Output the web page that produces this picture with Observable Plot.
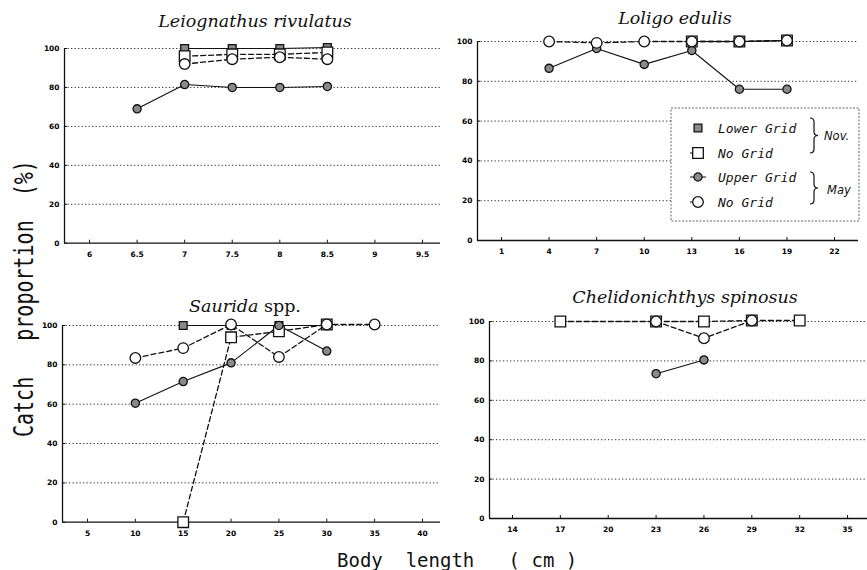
<!DOCTYPE html>
<html>
<head>
<meta charset="utf-8">
<script src="https://cdn.jsdelivr.net/npm/d3@7"></script>
<script src="https://cdn.jsdelivr.net/npm/@observablehq/plot@0.6"></script>
<style>
  body { margin: 0; background: #fff; }
  #wrap { position: relative; width: 867px; height: 570px; overflow: hidden; background: #fff; }
  #wrap > svg { position: absolute; }
</style>
</head>
<body>
<div id="wrap"></div>
<script>
// ---------- data ----------
const yTicks = [0, 20, 40, 60, 80, 100];
const gridLevels = [20, 40, 60, 80, 100];

const seriesKeys   = ["lowerNov", "noGridNov", "upperMay", "noGridMay"];
const seriesLabels = ["Lower Grid", "No Grid", "Upper Grid", "No Grid"];
const monthLabels  = ["Nov.", "May"];

// Leiognathus rivulatus
const leioTicks      = [6, 6.5, 7, 7.5, 8, 8.5, 9, 9.5];
const leioLength     = [6.5, 7, 7.5, 8, 8.5];
const leioLowerNov   = [null, 100, 100, 100, 100.5];
const leioNoGridNov  = [null, 96, 97, 97, 98];
const leioUpperMay   = [69, 81.5, 80, 80, 80.5];
const leioNoGridMay  = [null, 92, 94.5, 95.5, 94.5];

// Loligo edulis
const loligoTicks     = [1, 4, 7, 10, 13, 16, 19, 22];
const loligoLength    = [4, 7, 10, 13, 16, 19];
const loligoLowerNov  = [null, null, null, 100, 100, 100.5];
const loligoNoGridNov = [null, null, null, 100, 100, 100.5];
const loligoUpperMay  = [86.5, 96.5, 88.5, 95.5, 76, 76];
const loligoNoGridMay = [100, 99.3, 100, 100, 100, 100.5];

// Saurida spp.
const sauridaTicks     = [5, 10, 15, 20, 25, 30, 35, 40];
const sauridaLength    = [10, 15, 20, 25, 30, 35];
const sauridaLowerNov  = [null, 100, 100, 100, 100, null];
const sauridaNoGridNov = [null, 0, 94, 97, 100.5, null];
const sauridaUpperMay  = [60.5, 71.5, 81, 100, 87, null];
const sauridaNoGridMay = [83.5, 88.5, 100.5, 84, 100.5, 100.5];

// Chelidonichthys spinosus
const cheliTicks     = [14, 17, 20, 23, 26, 29, 32, 35];
const cheliLength    = [17, 23, 26, 29, 32];
const cheliLowerNov  = [null, null, null, null, null];
const cheliNoGridNov = [100, 100, 100, 100.5, 100.5];
const cheliUpperMay  = [null, 73.5, 80.5, null, null];
const cheliNoGridMay = [null, 100, 91.5, 100.5, null];

// ---------- styles ----------
const markStyle = {
  lowerNov:  {symbol: "square", fill: "#8a8a8a", r: 4.4, dash: null,  sw: 1.1},
  noGridNov: {symbol: "square", fill: "#fff",    r: 6.0, dash: "5,3", sw: 1.3},
  upperMay:  {symbol: "circle", fill: "#8a8a8a", r: 4.1, dash: null,  sw: 1.1},
  noGridMay: {symbol: "circle", fill: "#fff",    r: 5.3, dash: "5,3", sw: 1.3}
};

const panels = [
  {title: [["Leiognathus rivulatus", "italic"]], tx: 255, ty: 27,
   rect: {x0: 64, x1: 440, y0: 48, y1: 242.7}, domain: [5.737, 9.689], ticks: leioTicks,
   lengths: leioLength, values: [leioLowerNov, leioNoGridNov, leioUpperMay, leioNoGridMay]},
  {title: [["Loligo edulis", "italic"]], tx: 675, ty: 24,
   rect: {x0: 477, x1: 858, y0: 41, y1: 240}, domain: [-0.514, 23.51], ticks: loligoTicks,
   lengths: loligoLength, values: [loligoLowerNov, loligoNoGridNov, loligoUpperMay, loligoNoGridMay]},
  {title: [["Saurida", "italic"], [" spp.", "normal"]], tx: 245, ty: 312,
   rect: {x0: 62, x1: 440, y0: 325, y1: 521.7}, domain: [2.39, 41.88], ticks: sauridaTicks,
   lengths: sauridaLength, values: [sauridaLowerNov, sauridaNoGridNov, sauridaUpperMay, sauridaNoGridMay]},
  {title: [["Chelidonichthys spinosus", "italic"]], tx: 685, ty: 303,
   rect: {x0: 489, x1: 867, y0: 321, y1: 518}, domain: [12.56, 36.25], ticks: cheliTicks,
   lengths: cheliLength, values: [cheliLowerNov, cheliNoGridNov, cheliUpperMay, cheliNoGridMay]}
];

const wrap = document.getElementById("wrap");

function rowsOf(p) {
  const rows = [];
  seriesKeys.forEach((k, si) => {
    p.values[si].forEach((v, i) => {
      if (v != null) rows.push({x: p.lengths[i], y: v, s: k});
    });
  });
  return rows;
}

panels.forEach(p => {
  const mL = 40, mR = 0, mT = 12, mB = 24;
  const W = p.rect.x1 - p.rect.x0 + mL + mR;
  const H = p.rect.y1 - p.rect.y0 + mT + mB;
  const rows = rowsOf(p);
  const lineMarks = seriesKeys.map(k => Plot.line(rows.filter(r => r.s === k), {
    x: "x", y: "y", stroke: "#111", strokeWidth: markStyle[k].sw,
    strokeDasharray: markStyle[k].dash
  }));
  const dotMarks = seriesKeys.map(k => Plot.dot(rows.filter(r => r.s === k), {
    x: "x", y: "y", symbol: () => markStyle[k].symbol, r: markStyle[k].r,
    fill: markStyle[k].fill, stroke: "#111", strokeWidth: 1.3
  }));
  const svg = Plot.plot({
    width: W, height: H,
    marginLeft: mL, marginRight: mR, marginTop: mT, marginBottom: mB,
    x: {domain: p.domain, axis: null},
    y: {domain: [0, 100], axis: null},
    symbol: {type: "identity"},
    style: {background: "transparent", overflow: "visible", fontFamily: "DejaVu Sans"},
    marks: [
      Plot.ruleY(gridLevels, {stroke: "#333", strokeWidth: 1, strokeDasharray: "1.3,2.2"}),
      Plot.ruleY([0], {stroke: "#111", strokeWidth: 1.3}),
      Plot.ruleX([p.domain[0]], {y1: 0, y2: 100, stroke: "#111", strokeWidth: 1.3}),
      Plot.axisX({ticks: p.ticks, tickSize: 3, dy: -3, tickFormat: () => "", label: null, stroke: "#111"}),
      Plot.axisY({ticks: yTicks, tickSize: 3, dx: 3, tickFormat: () => "", label: null, stroke: "#111"}),
      Plot.axisX({ticks: p.ticks, tickSize: 0, tickPadding: 8, fontSize: 7.5, fontWeight: "bold",
                  tickFormat: d => String(d), label: null}),
      Plot.axisY({ticks: yTicks, tickSize: 0, tickPadding: 5, fontSize: 7.5, fontWeight: "bold",
                  tickFormat: d => String(d), label: null}),
      ...lineMarks,
      ...dotMarks
    ]
  });
  svg.style.left = (p.rect.x0 - mL) + "px";
  svg.style.top = (p.rect.y0 - mT) + "px";
  wrap.appendChild(svg);
});

// ---------- overlay: titles, axis labels, legend ----------
const ov = d3.select(wrap).append("svg")
  .attr("width", 867).attr("height", 570)
  .style("left", "0px").style("top", "0px");

panels.forEach(p => {
  const t = ov.append("text")
    .attr("x", p.tx).attr("y", p.ty)
    .attr("text-anchor", "middle")
    .attr("font-family", "DejaVu Serif")
    .attr("font-size", 17.5)
    .attr("fill", "#111");
  p.title.forEach(([s, st]) => t.append("tspan").attr("font-style", st).text(s));
});

ov.append("text")
  .attr("transform", "translate(33,437) rotate(-90) scale(1,1.3)")
  .attr("font-family", "DejaVu Sans Mono")
  .attr("font-size", 20)
  .style("white-space", "pre")
  .attr("fill", "#111")
  .text("Catch   proportion  (%)");

ov.append("text")
  .attr("x", 337).attr("y", 567)
  .attr("font-family", "DejaVu Sans Mono")
  .attr("font-size", 19)
  .style("white-space", "pre")
  .attr("fill", "#111")
  .text("Body  length   ( cm )");

// legend
const lg = ov.append("g").attr("transform", "translate(671,108)");
lg.append("rect").attr("width", 188).attr("height", 113)
  .attr("fill", "#fff").attr("stroke", "#666").attr("stroke-width", 1)
  .attr("stroke-dasharray", "2,1.5");
const rowY = [20, 45, 69, 94];
seriesKeys.forEach((k, i) => {
  const st = markStyle[k];
  const g = lg.append("g").attr("transform", `translate(27,${rowY[i]})`);
  if (i > 0) g.append("line").attr("x1", -8).attr("x2", i === 2 ? 8 : 0).attr("stroke", "#111").attr("stroke-width", 1);
  const sym = d3.symbol(st.symbol === "square" ? d3.symbolSquare : d3.symbolCircle, Math.PI * st.r * st.r);
  g.append("path").attr("d", sym()).attr("fill", st.fill).attr("stroke", "#111").attr("stroke-width", 1.3);
  lg.append("text").attr("x", 47).attr("y", rowY[i]).attr("dy", "0.36em")
    .attr("font-family", "DejaVu Sans Mono").attr("font-style", "oblique").attr("font-size", 13)
    .attr("fill", "#111").text(seriesLabels[i]);
});
function brace(x, y0, y1) {
  const m = (y0 + y1) / 2, w = 4;
  return `M${x},${y0} q${w},0 ${w},${w} V${m - w} q0,${w} ${w},${w} q-${w},0 -${w},${w} V${y1 - w} q0,${w} -${w},${w}`;
}
lg.append("path").attr("d", brace(139, 10, 45)).attr("fill", "none").attr("stroke", "#111").attr("stroke-width", 1.2);
lg.append("path").attr("d", brace(139, 64, 96)).attr("fill", "none").attr("stroke", "#111").attr("stroke-width", 1.2);
[[monthLabels[0], 153, 28], [monthLabels[1], 156, 82]].forEach(([s, x, y]) => {
  lg.append("text").attr("x", x).attr("y", y).attr("dy", "0.36em")
    .attr("font-family", "DejaVu Sans").attr("font-style", "oblique").attr("font-size", 11.5)
    .attr("fill", "#111").text(s);
});
</script>
</body>
</html>
